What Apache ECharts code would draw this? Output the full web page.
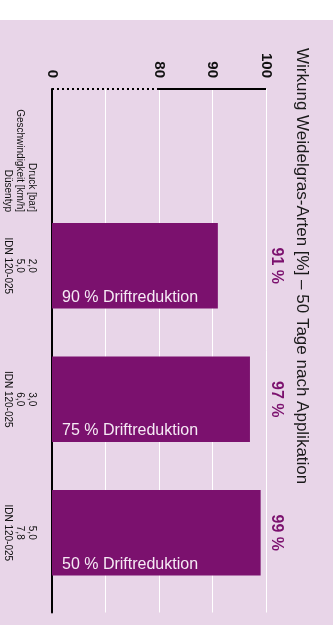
<!DOCTYPE html>
<html>
<head>
<meta charset="utf-8">
<script src="https://cdn.jsdelivr.net/npm/echarts@6/dist/echarts.min.js"></script>
<style>
  html, body { margin: 0; padding: 0; background: #ffffff; }
  #bg { position: absolute; left: 0; top: 20px; width: 333px; height: 605px; background: #e8d5e8; }
  #chart { position: absolute; left: 0; top: 0; width: 333px; height: 625px; }
</style>
</head>
<body>
<div id="bg"></div>
<div id="chart"></div>
<script>
// Nozzle settings per bar: pressure [bar], speed [km/h], nozzle type
const categories = ['2,0\n5,0\nIDN 120-025', '3,0\n6,0\nIDN 120-025', '5,0\n7,8\nIDN 120-025'];
const driftLabels = ['90 % Driftreduktion', '75 % Driftreduktion', '50 % Driftreduktion'];
// Effect on ryegrass species [%]
const wirkung = [91, 97, 99];
// Broken value axis: the stretch below 80 is compressed and labelled as 0
const tickLabels = { 60: '0', 70: '', 80: '80', 90: '90', 100: '100' };
const headerLines = ['Druck [bar]', 'Geschwindigkeit [km/h]', 'Düsentyp'];
const titleText = 'Wirkung Weidelgras-Arten [%] – 50 Tage nach Applikation';

const FONT = '"Liberation Sans", Arial, Helvetica, sans-serif';
const PURPLE = '#7b116e';
const AXIS_MIN = 60, AXIS_MAX = 100, AXIS_STEP = 10, AXIS_BREAK = 80;

const chart = echarts.init(document.getElementById('chart'), null, { renderer: 'canvas' });

chart.setOption({
  animation: false,
  backgroundColor: 'transparent',
  grid: [
    // frame: axes and gridlines
    { left: 52, right: 67, top: 89, bottom: 12.5 },
    // bar area
    { left: 52, right: 67, top: 199, bottom: 25.5 }
  ],
  xAxis: [
    {
      gridIndex: 0,
      type: 'value',
      position: 'top',
      min: AXIS_MIN, max: AXIS_MAX, interval: AXIS_STEP,
      axisLine: { show: false },
      axisTick: { show: false },
      splitLine: { show: true, lineStyle: { color: '#ffffff', width: 1 } },
      axisLabel: {
        rotate: -90,
        align: 'right',
        verticalAlign: 'middle',
        margin: 11,
        color: '#111111',
        fontFamily: FONT,
        fontWeight: 'bold',
        fontSize: 15,
        formatter: v => tickLabels[v] !== undefined ? tickLabels[v] : ''
      }
    },
    {
      gridIndex: 1,
      type: 'value',
      min: AXIS_MIN, max: AXIS_MAX, interval: AXIS_STEP,
      show: false
    }
  ],
  yAxis: [
    {
      gridIndex: 0,
      type: 'value',
      min: 0, max: 1,
      axisLine: { show: true, lineStyle: { color: '#000000', width: 2 } },
      axisTick: { show: false },
      axisLabel: { show: false },
      splitLine: { show: false }
    },
    {
      gridIndex: 1,
      type: 'category',
      inverse: true,
      data: categories,
      axisLine: { show: false },
      axisTick: { show: false },
      axisLabel: {
        rotate: -90,
        align: 'center',
        verticalAlign: 'top',
        margin: 14,
        lineHeight: 12,
        color: '#111111',
        fontFamily: FONT,
        fontSize: 10
      }
    }
  ],
  series: [
    {
      // top edge of the value axis: dotted across the break, solid above it
      type: 'line',
      xAxisIndex: 0,
      yAxisIndex: 0,
      data: [],
      silent: true,
      markLine: {
        silent: true,
        symbol: 'none',
        label: { show: false },
        animation: false,
        data: [
          [
            { coord: [AXIS_MIN, 1], lineStyle: { type: [2, 3], color: '#000000', width: 2 } },
            { coord: [AXIS_BREAK, 1] }
          ],
          [
            { coord: [AXIS_BREAK, 1], lineStyle: { type: 'solid', color: '#000000', width: 2 } },
            { coord: [AXIS_MAX, 1] }
          ]
        ]
      }
    },
    {
      name: 'Wirkung',
      type: 'bar',
      xAxisIndex: 1,
      yAxisIndex: 1,
      data: wirkung,
      barCategoryGap: '36%',
      itemStyle: { color: PURPLE },
      label: {
        show: true,
        position: [10, '100%'],
        align: 'left',
        verticalAlign: 'bottom',
        offset: [0, -3],
        color: '#f6eaf5',
        fontFamily: FONT,
        fontSize: 16,
        formatter: p => driftLabels[p.dataIndex]
      }
    },
    {
      name: 'Wert',
      type: 'bar',
      xAxisIndex: 1,
      yAxisIndex: 1,
      data: wirkung,
      barGap: '-100%',
      barCategoryGap: '36%',
      itemStyle: { color: 'rgba(0,0,0,0)' },
      label: {
        show: true,
        position: [224, '50%'],
        rotate: -90,
        align: 'center',
        verticalAlign: 'middle',
        color: PURPLE,
        fontFamily: FONT,
        fontWeight: 'bold',
        fontSize: 16,
        formatter: p => p.value + ' %'
      }
    }
  ],
  graphic: [
    {
      type: 'text',
      x: 302,
      y: 48,
      rotation: -Math.PI / 2,
      silent: true,
      style: {
        text: titleText,
        fill: '#1a1a1a',
        font: '17px ' + FONT,
        align: 'left',
        verticalAlign: 'middle'
      }
    },
    {
      type: 'text',
      x: 38,
      y: 212,
      rotation: -Math.PI / 2,
      silent: true,
      style: {
        text: headerLines.join('\n'),
        fill: '#111111',
        font: '10px ' + FONT,
        lineHeight: 12,
        align: 'right',
        verticalAlign: 'top'
      }
    }
  ]
});
</script>
</body>
</html>
